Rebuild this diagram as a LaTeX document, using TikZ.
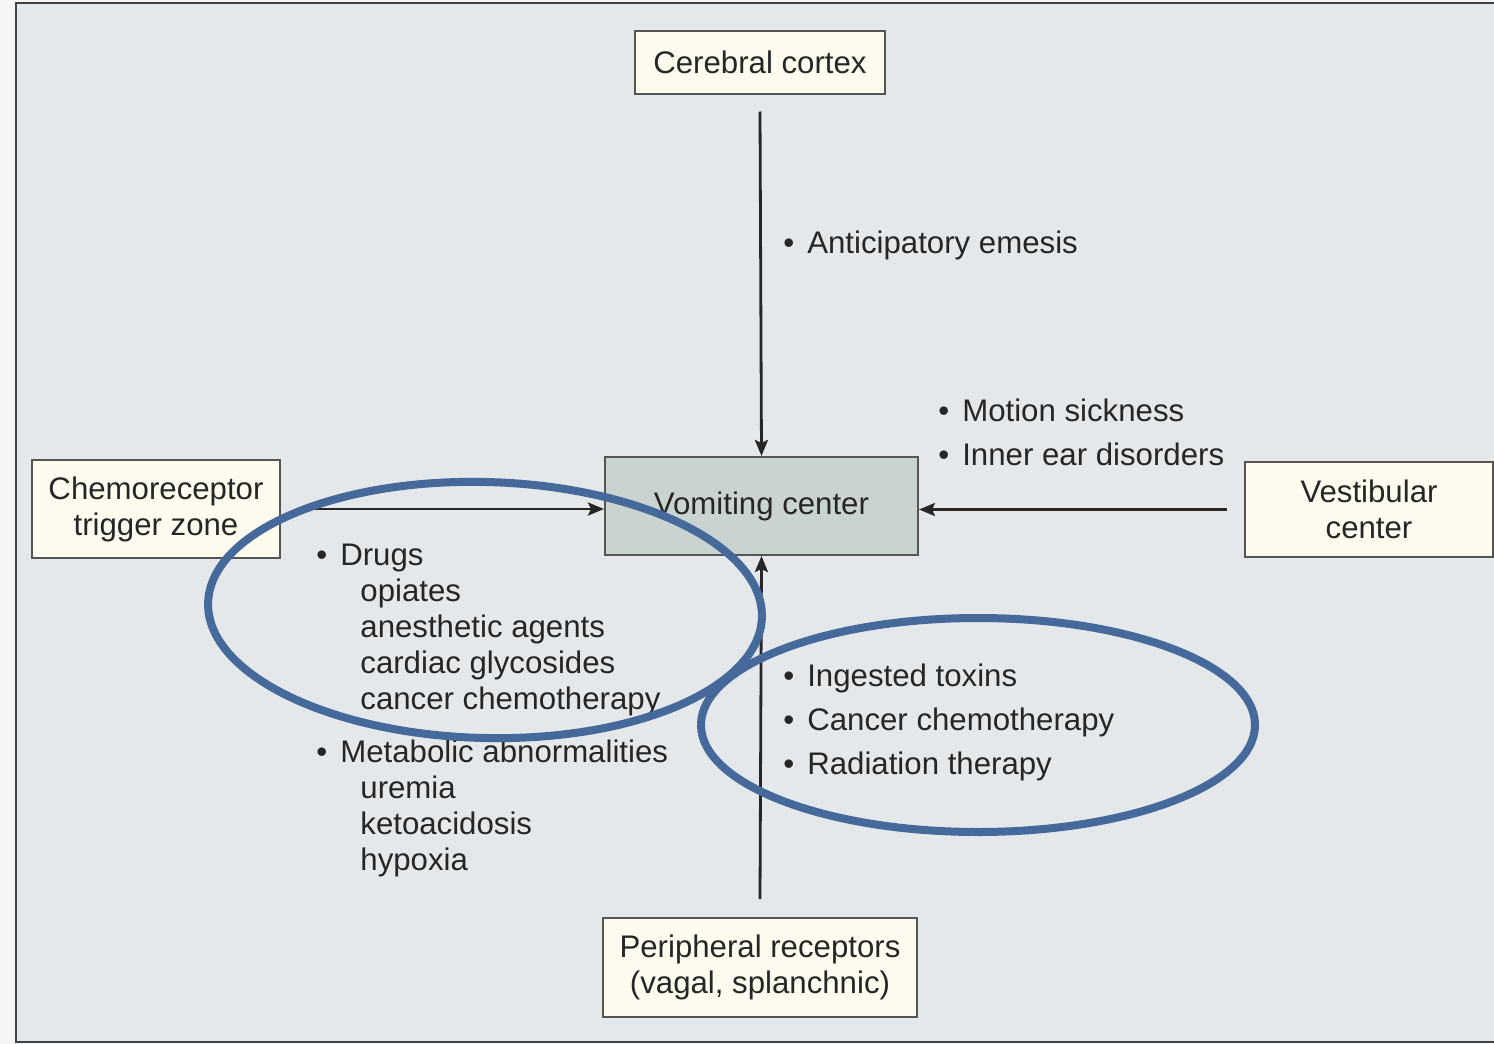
\documentclass[tikz,border=0pt]{standalone}
\usepackage{fontspec}
\setmainfont{Liberation Sans}
\usetikzlibrary{arrows.meta}
\definecolor{outerbg}{HTML}{F5F5F5}
\definecolor{bg}{HTML}{E4E8EB}
\definecolor{framecol}{HTML}{3F4244}
\definecolor{cream}{HTML}{FDFAEE}
\definecolor{vomfill}{HTML}{C9D4D0}
\definecolor{boxline}{HTML}{555555}
\definecolor{txt}{HTML}{262626}
\definecolor{ellcol}{HTML}{44699A}
\newcommand\bul{\textbullet\hspace{6.5pt}}
\begin{document}
\begin{tikzpicture}[x=0.5pt,y=-0.5pt,
  every node/.style={text=txt,font=\fontsize{15.6}{18}\selectfont},
  box/.style={draw=boxline,line width=1pt,fill=cream,inner sep=0pt,align=center},
  vombox/.style={box,fill=vomfill},
  lab/.style={anchor=base west,inner sep=0pt},
  arr/.style={draw=black!85,line width=1.4pt,-{Stealth[length=8pt,width=6.5pt,inset=1.5pt]}},
  ell/.style={draw=ellcol,line width=4pt}]
\useasboundingbox (0,0) rectangle (1494,1044);
\fill[outerbg] (0,0) rectangle (1494,1044);
\fill[bg] (16,3) rectangle (1494,1042);
\draw[framecol,line width=1.2pt] (1494,3) -- (16,3) -- (16,1042) -- (1494,1042);

% boxes
\node[box,minimum width=125pt,minimum height=31.5pt] (cc) at (760,62) {Cerebral cortex};
\node[box,minimum width=124pt,minimum height=49pt] (ctz) at (156,509) {Chemoreceptor\\trigger zone};
\node[vombox,minimum width=156.5pt,minimum height=49pt] (vom) at (761.5,506) {Vomiting center};
\node[box,minimum width=124pt,minimum height=47.5pt] (vest) at (1369,509.5) {Vestibular\\center};
\node[box,minimum width=157pt,minimum height=49.5pt] (per) at (760,967.5) {Peripheral receptors\\(vagal, splanchnic)};

% connectors
\draw[arr] ([yshift=-8.5pt]cc.south) -- (vom.north);
\draw[arr] ([xshift=9pt]ctz.east) -- (vom.west |- ctz.east);
\draw[arr] ([xshift=-8.5pt]vest.west) -- (vom.east |- vest.west);
\draw[arr] ([yshift=9pt]per.north) -- (vom.south);

% labels
\node[lab] (l1) at (783,253) {\bul Anticipatory emesis};
\node[lab] (l2) at (938,421) {\bul Motion sickness};
\node[lab] (l3) at (938,465) {\bul Inner ear disorders};

\node[lab] (d0) at (316,565) {\bul Drugs};
\node[lab] (d1) at (360,601) {opiates};
\node[lab] (d2) at (360,637) {anesthetic agents};
\node[lab] (d3) at (360,673) {cardiac glycosides};
\node[lab] (d4) at (360,709) {cancer chemotherapy};
\node[lab] (m0) at (316,762) {\bul Metabolic abnormalities};
\node[lab] (m1) at (360,798) {uremia};
\node[lab] (m2) at (360,834) {ketoacidosis};
\node[lab] (m3) at (360,870) {hypoxia};

\node[lab] (r1) at (783,686) {\bul Ingested toxins};
\node[lab] (r2) at (783,730) {\bul Cancer chemotherapy};
\node[lab] (r3) at (783,774) {\bul Radiation therapy};

% highlight ellipses
\draw[ell,rotate around={-1.5:(485,610)}] (485,610) ellipse [x radius=277, y radius=128];
\draw[ell] (978,725) ellipse [x radius=277, y radius=107];
\end{tikzpicture}
\end{document}
